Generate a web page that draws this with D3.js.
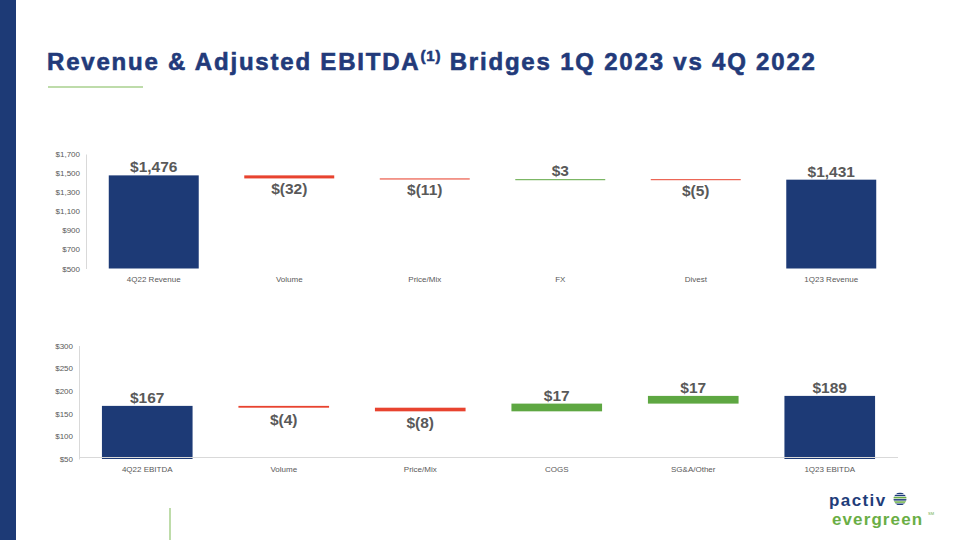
<!DOCTYPE html>
<html>
<head>
<meta charset="utf-8">
<script src="https://cdn.jsdelivr.net/npm/d3@7"></script>
<style>
  html, body { margin: 0; padding: 0; background: #fff; }
  svg { display: block; font-family: "Liberation Sans", Arial, sans-serif; }
</style>
</head>
<body>
<svg id="chart" width="960" height="540"></svg>
<script>
// ---------- data ----------
const revCategories = ["4Q22 Revenue", "Volume", "Price/Mix", "FX", "Divest", "1Q23 Revenue"];
const revValues = [1476, -32, -11, 3, -5, 1431];
const revIsTotal = [true, false, false, false, false, true];
const revTicks = [500, 700, 900, 1100, 1300, 1500, 1700];

const ebCategories = ["4Q22 EBITDA", "Volume", "Price/Mix", "COGS", "SG&A/Other", "1Q23 EBITDA"];
const ebValues = [167, -4, -8, 17, 17, 189];
const ebIsTotal = [true, false, false, false, false, true];
const ebTicks = [50, 100, 150, 200, 250, 300];

// ---------- styles ----------
const NAVY = "#1d3a76";
const RED = "#e8432f";
const GREEN = "#5ea742";
const LIGHTGREEN = "#a9d18e";
const TEXT = "#595959";
const AXIS = "#d9d9d9";

const svg = d3.select("#chart");

// left band
svg.append("rect").attr("x", 0).attr("y", 0).attr("width", 16).attr("height", 540).attr("fill", NAVY);

// title
const title = svg.append("text")
  .attr("x", 47).attr("y", 70)
  .attr("fill", "#223a7a")
  .attr("stroke", "#223a7a").attr("stroke-width", 0.6)
  .attr("font-size", 24).attr("font-weight", "bold")
  .attr("letter-spacing", 1.8);
title.append("tspan").text("Revenue & Adjusted EBITDA");
title.append("tspan").attr("font-size", 15).attr("dy", -9).attr("letter-spacing", 0.8).text("(1)");
title.append("tspan").attr("dy", 9).text(" Bridges 1Q 2023 vs 4Q 2022");

// underline
svg.append("line").attr("x1", 48).attr("x2", 143).attr("y1", 87).attr("y2", 87)
  .attr("stroke", LIGHTGREEN).attr("stroke-width", 1.5);

// bottom green vertical
svg.append("line").attr("x1", 170).attr("x2", 170).attr("y1", 508).attr("y2", 540)
  .attr("stroke", LIGHTGREEN).attr("stroke-width", 1.5);

function fmtVal(v) {
  const s = d3.format(",")(Math.abs(v));
  return v < 0 ? "$(" + s + ")" : "$" + s;
}

function drawBridge(opts) {
  const { cats, vals, isTotal, ticks, xRange, yDomain, yRange, catY, hasBaseline, baselineY, belowOff } = opts;
  const g = svg.append("g");
  const x = d3.scaleBand().domain(cats).range(xRange).paddingInner(0.336).paddingOuter(0.168);
  const y = d3.scaleLinear().domain(yDomain).range(yRange);

  let running = 0;
  const segs = cats.map((c, i) => {
    const v = vals[i];
    let lo, hi, color, pos;
    if (isTotal[i]) {
      lo = yDomain[0]; hi = v; running = v; color = NAVY; pos = "above";
    } else {
      const start = running, end = running + v;
      lo = Math.min(start, end); hi = Math.max(start, end);
      running = end;
      color = v < 0 ? RED : GREEN;
      pos = v < 0 ? "below" : "above";
    }
    return { c, v, lo, hi, color, pos };
  });

  const yAxis = d3.axisLeft(y).tickValues(ticks).tickFormat(d => "$" + d3.format(",")(d)).tickSize(0).tickPadding(6);
  const ya = g.append("g").attr("transform", `translate(${xRange[0]},0)`).call(yAxis);
  ya.select(".domain").attr("stroke", AXIS).attr("stroke-width", 1);
  ya.selectAll("text").attr("fill", TEXT).attr("font-size", 8).attr("font-family", "Liberation Sans, Arial, sans-serif");

  g.selectAll("rect.bar").data(segs).enter().append("rect")
    .attr("class", "bar")
    .attr("x", d => x(d.c))
    .attr("width", x.bandwidth())
    .attr("y", d => y(d.hi))
    .attr("height", d => Math.max(1, y(d.lo) - y(d.hi)))
    .attr("fill", d => d.color);

  if (hasBaseline) {
    g.append("line").attr("x1", xRange[0]).attr("x2", xRange[1])
      .attr("y1", baselineY).attr("y2", baselineY)
      .attr("stroke", AXIS).attr("stroke-width", 1.2);
  }

  g.selectAll("text.val").data(segs).enter().append("text")
    .attr("class", "val")
    .attr("x", d => x(d.c) + x.bandwidth() / 2)
    .attr("y", d => d.pos === "above" ? y(d.hi) - 3 : Math.max(y(d.lo), y(d.hi) + 1) + belowOff)
    .attr("text-anchor", "middle")
    .attr("font-size", 15.5).attr("font-weight", "bold")
    .attr("fill", TEXT)
    .text(d => fmtVal(d.v));

  g.selectAll("text.cat").data(cats).enter().append("text")
    .attr("class", "cat")
    .attr("x", d => x(d) + x.bandwidth() / 2)
    .attr("y", catY)
    .attr("text-anchor", "middle")
    .attr("font-size", 8)
    .attr("fill", TEXT)
    .text(d => d);
}

drawBridge({
  cats: revCategories, vals: revValues, isTotal: revIsTotal, ticks: revTicks,
  xRange: [86, 899], yDomain: [500, 1700], yRange: [268.5, 154],
  catY: 282, hasBaseline: false, belowOff: 15.5
});

drawBridge({
  cats: ebCategories, vals: ebValues, isTotal: ebIsTotal, ticks: ebTicks,
  xRange: [79, 898], yDomain: [50, 300], yRange: [459, 345.5],
  catY: 472, hasBaseline: true, baselineY: 457.5, belowOff: 17
});

// ---------- logo ----------
const logo = svg.append("g");
logo.append("text").attr("x", 829).attr("y", 506)
  .attr("font-size", 17).attr("font-weight", "bold").attr("letter-spacing", 1.4)
  .attr("fill", "#1f3d7a").text("pactiv");
logo.append("text").attr("x", 832).attr("y", 525)
  .attr("font-size", 17).attr("font-weight", "bold").attr("letter-spacing", 1.1)
  .attr("fill", "#6aae45").text("evergreen");
logo.append("text").attr("x", 928).attr("y", 515)
  .attr("font-size", 4).attr("fill", "#6aae45").text("SM");
const defs = svg.append("defs");
defs.append("clipPath").attr("id", "globe").append("circle").attr("cx", 900).attr("cy", 499).attr("r", 6.5);
const globe = logo.append("g").attr("clip-path", "url(#globe)");
const stripeColors = ["#1f3d7a", "#1f3d7a", "#6aae45", "#1f3d7a", "#6aae45", "#1f3d7a"];
stripeColors.forEach((c, i) => {
  globe.append("rect").attr("x", 893).attr("y", 492.5 + i * 2.2).attr("width", 14).attr("height", 1.5).attr("fill", c);
});
</script>
</body>
</html>
